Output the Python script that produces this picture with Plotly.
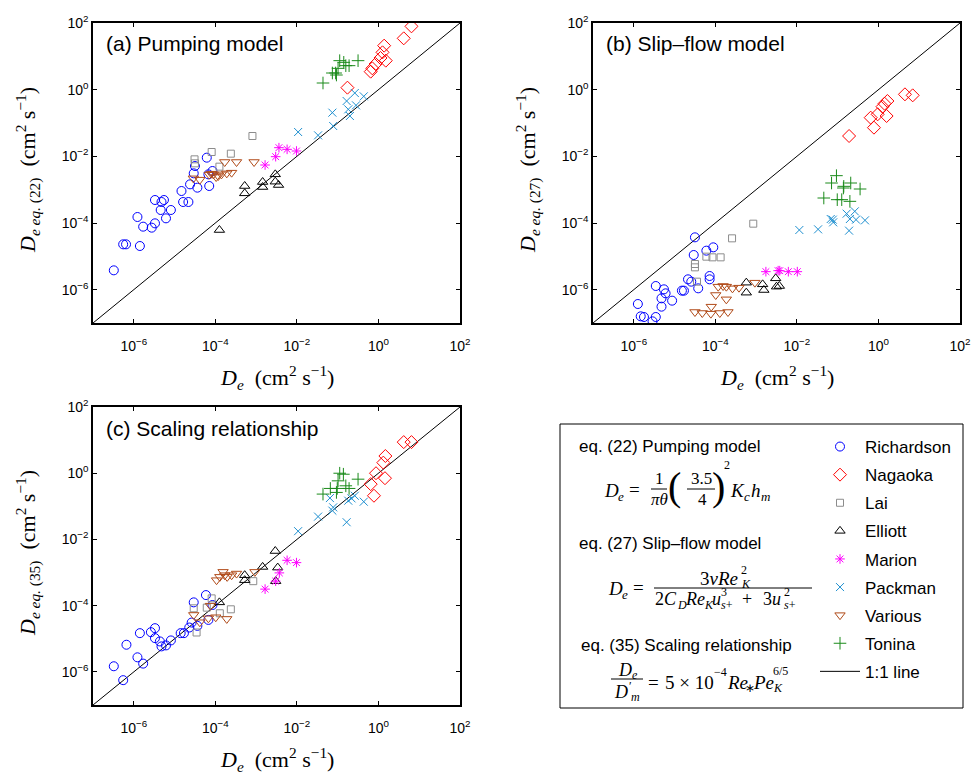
import numpy as np
import plotly.graph_objects as go

W, H = 973, 773

# ---------------- data (log10 of cm^2 s^-1) ----------------
# Panel (a) Pumping model
richardson_a_x = [-6.49,-6.26,-6.19,-5.85,-5.91,-5.77,-5.56,-5.48,-5.21,-5.48,-5.32,-5.26,-5.34,-5.09,-4.83,-4.79,-4.66,-4.62,-4.44,-4.53,-4.50,-4.21,-4.15,-4.17,-4.07]
richardson_a_y = [-5.42,-4.64,-4.64,-4.69,-3.82,-4.11,-4.14,-4.01,-3.86,-3.31,-3.37,-3.31,-3.61,-3.61,-3.04,-3.37,-3.37,-2.84,-2.94,-2.51,-2.29,-2.04,-2.89,-2.54,-2.44]
nagaoka_a_x = [0.81,0.62,0.14,0.18,0.10,-0.07,-0.15,-0.19,-0.76,0.05]
nagaoka_a_y = [1.90,1.54,1.32,0.87,1.12,0.77,0.64,0.54,0.06,0.95]
lai_a_x = [-3.09,-4.09,-3.62,-4.51,-4.50,-3.90]
lai_a_y = [-1.39,-1.87,-1.92,-2.09,-2.21,-2.31]
elliott_a_x = [-3.90,-3.28,-3.28,-2.84,-2.84,-2.53,-2.53,-2.45]
elliott_a_y = [-4.21,-2.89,-3.11,-2.77,-2.92,-2.54,-2.76,-2.86]
marion_a_x = [-2.78,-2.52,-2.44,-2.24,-2.01]
marion_a_y = [-2.26,-2.01,-1.74,-1.79,-1.84]
packman_a_x = [-1.97,-1.48,-1.13,-1.11,-0.78,-0.74,-0.70,-0.58,-0.55,-0.36]
packman_a_y = [-1.27,-1.37,-0.69,-1.09,-0.34,-0.59,-0.79,-0.10,-0.47,-0.20]
various_a_x = [-4.54,-4.38,-4.15,-3.77,-3.48,-3.05,-4.05,-3.93,-3.85,-3.72,-3.60,-3.98,-4.10]
various_a_y = [-2.66,-2.70,-2.55,-2.17,-2.17,-2.17,-2.54,-2.59,-2.54,-2.51,-2.49,-2.62,-2.52]
tonina_a_x = [-1.36,-1.13,-1.05,-0.99,-0.95,-0.85,-0.80,-0.72,-0.50,-1.03]
tonina_a_y = [0.20,0.50,0.50,0.64,0.87,0.82,0.72,0.72,0.87,0.44]

# Panel (b) Slip-flow model
richardson_b_x = [-4.50,-4.53,-4.22,-4.05,-4.14,-4.14,-4.67,-4.59,-4.42,-4.82,-4.77,-5.46,-5.26,-5.22,-5.32,-5.06,-5.32,-5.90,-5.83,-5.75,-5.54,-5.46]
richardson_b_y = [-4.43,-4.96,-4.83,-4.73,-5.59,-5.69,-5.69,-5.76,-5.96,-6.03,-6.03,-5.89,-5.99,-6.11,-6.26,-6.33,-6.51,-6.43,-6.80,-6.82,-6.95,-6.82]
nagaoka_b_x = [-0.72,-0.19,-0.11,-0.02,0.10,0.22,0.20,0.65,0.84,0.15]
nagaoka_b_y = [-1.39,-0.84,-1.14,-0.74,-0.51,-0.34,-0.79,-0.14,-0.17,-0.42]
lai_b_x = [-3.07,-3.59,-4.22,-4.07,-3.87,-4.50,-4.50,-4.45]
lai_b_y = [-4.02,-4.46,-5.01,-5.03,-5.03,-5.23,-5.33,-5.76]
elliott_b_x = [-3.24,-3.24,-2.84,-2.81,-2.52,-2.50,-2.43]
elliott_b_y = [-5.79,-6.09,-5.84,-6.01,-5.66,-5.91,-5.89]
marion_b_x = [-2.76,-2.46,-2.42,-2.21,-1.99]
marion_b_y = [-5.46,-5.43,-5.43,-5.46,-5.46]
packman_b_x = [-1.94,-1.48,-1.17,-1.11,-1.12,-0.78,-0.72,-0.70,-0.58,-0.55,-0.33]
packman_b_y = [-4.21,-4.19,-3.88,-3.98,-3.90,-3.72,-4.23,-3.88,-3.65,-3.90,-3.92]
various_b_x = [-3.93,-3.81,-3.73,-3.58,-3.42,-3.03,-3.99,-3.73,-4.10,-4.50,-4.32,-4.11,-3.89,-3.69]
various_b_y = [-5.91,-5.89,-5.91,-5.96,-5.94,-5.79,-6.16,-6.29,-6.51,-6.67,-6.70,-6.72,-6.70,-6.67]
tonina_b_x = [-1.34,-1.15,-1.03,-0.86,-0.85,-0.68,-0.45,-1.01,-0.90,-0.70]
tonina_b_y = [-3.25,-2.80,-2.58,-2.95,-2.90,-2.80,-2.98,-3.30,-3.30,-3.35]

# Panel (c) Scaling relationship
richardson_c_x = [-6.26,-6.49,-6.18,-5.91,-5.77,-5.85,-5.58,-5.48,-5.48,-5.36,-5.32,-5.21,-5.09,-4.85,-4.77,-4.64,-4.58,-4.53,-4.44,-4.23,-4.17,-4.07]
richardson_c_y = [-6.25,-5.83,-5.18,-5.56,-5.75,-4.83,-4.80,-4.68,-4.98,-5.08,-5.23,-5.20,-5.05,-4.83,-4.83,-4.66,-4.51,-3.90,-4.61,-3.68,-4.43,-3.98]
nagaoka_c_x = [0.62,0.81,0.17,0.12,-0.06,-0.19,-0.11,0.16]
nagaoka_c_y = [0.94,0.94,0.52,0.32,0.00,-0.33,-0.68,-0.15]
lai_c_x = [-4.46,-4.53,-4.09,-3.89,-3.62,-3.07,-4.21]
lai_c_y = [-4.81,-4.08,-3.78,-4.23,-4.11,-3.26,-4.06]
elliott_c_x = [-3.90,-3.28,-3.28,-2.84,-2.53,-2.47,-2.52]
elliott_c_y = [-3.90,-3.08,-3.23,-2.83,-2.35,-2.85,-3.26]
marion_c_x = [-2.78,-2.52,-2.43,-2.24,-2.01]
marion_c_y = [-3.50,-3.26,-3.01,-2.63,-2.70]
packman_c_x = [-1.97,-1.48,-1.13,-1.11,-1.19,-0.78,-0.74,-0.66,-0.58,-0.36]
packman_c_y = [-1.75,-1.31,-1.13,-1.03,-0.75,-1.48,-0.83,-0.76,-0.68,-0.86]
various_c_x = [-3.97,-3.89,-3.81,-3.77,-3.71,-3.60,-3.48,-3.03,-4.53,-4.38,-4.17,-3.99,-3.72,-4.12]
various_c_y = [-3.23,-3.13,-2.98,-3.08,-3.13,-3.08,-3.03,-2.98,-4.28,-4.50,-4.38,-4.35,-4.40,-4.00]
tonina_c_x = [-1.36,-1.18,-1.01,-0.99,-0.95,-0.86,-0.80,-0.72,-0.50,-1.03]
tonina_c_y = [-0.63,-0.46,-0.46,-0.23,0.00,-0.03,-0.38,-0.46,-0.18,-0.58]

one_to_one = [1e-7, 1e2]

tick_vals = [1e-6, 1e-4, 1e-2, 1e0, 1e2]
tick_text = ["10<sup>−6</sup>", "10<sup>−4</sup>", "10<sup>−2</sup>", "10<sup>0</sup>", "10<sup>2</sup>"]

series_names = ["Richardson", "Nagaoka", "Lai", "Elliott", "Marion", "Packman", "Various", "Tonina"]
panel_titles = ["(a) Pumping model", "(b) Slip–flow model", "(c) Scaling relationship"]
eq_labels = ["(22)", "(27)", "(35)"]

# ---------------- styles ----------------
colors = {"Richardson": "#0000ff", "Nagaoka": "#ff0000", "Lai": "#8c8c8c", "Elliott": "#000000",
          "Marion": "#ff00ff", "Packman": "#1f90d0", "Various": "#b04a18", "Tonina": "#1a8a1a"}
symbols = {"Richardson": "circle-open", "Nagaoka": "diamond-open", "Lai": "square-open",
           "Elliott": "triangle-up-open", "Marion": "asterisk-open", "Packman": "x-thin-open",
           "Various": "triangle-down-open", "Tonina": "cross-thin-open"}
sizes = {"Richardson": 9, "Nagaoka": 10, "Lai": 7, "Elliott": 9, "Marion": 8,
         "Packman": 8, "Various": 9, "Tonina": 9}

panels = {
    "a": {"Richardson": (richardson_a_x, richardson_a_y), "Nagaoka": (nagaoka_a_x, nagaoka_a_y),
          "Lai": (lai_a_x, lai_a_y), "Elliott": (elliott_a_x, elliott_a_y),
          "Marion": (marion_a_x, marion_a_y), "Packman": (packman_a_x, packman_a_y),
          "Various": (various_a_x, various_a_y), "Tonina": (tonina_a_x, tonina_a_y)},
    "b": {"Richardson": (richardson_b_x, richardson_b_y), "Nagaoka": (nagaoka_b_x, nagaoka_b_y),
          "Lai": (lai_b_x, lai_b_y), "Elliott": (elliott_b_x, elliott_b_y),
          "Marion": (marion_b_x, marion_b_y), "Packman": (packman_b_x, packman_b_y),
          "Various": (various_b_x, various_b_y), "Tonina": (tonina_b_x, tonina_b_y)},
    "c": {"Richardson": (richardson_c_x, richardson_c_y), "Nagaoka": (nagaoka_c_x, nagaoka_c_y),
          "Lai": (lai_c_x, lai_c_y), "Elliott": (elliott_c_x, elliott_c_y),
          "Marion": (marion_c_x, marion_c_y), "Packman": (packman_c_x, packman_c_y),
          "Various": (various_c_x, various_c_y), "Tonina": (tonina_c_x, tonina_c_y)},
}

# pixel boxes of the three plot areas: (x0, x1, ytop, ybottom)
boxes = {"a": (93, 460, 23, 323), "b": (593, 960, 23, 323), "c": (93, 460, 407, 705)}
axis_ids = {"a": ("x", "y"), "b": ("x2", "y2"), "c": ("x3", "y3")}

SANS = "Liberation Sans, Arial, sans-serif"
SERIF = "Liberation Serif, Times New Roman, serif"
NB = "\u00a0"

def px(x):
    return x / W

def py(y):
    return 1 - y / H

fig = go.Figure()

for key in ["a", "b", "c"]:
    xa, ya = axis_ids[key]
    # 1:1 line
    fig.add_trace(go.Scatter(x=one_to_one, y=one_to_one, mode="lines", xaxis=xa, yaxis=ya,
                             line=dict(color="black", width=1), name="1:1 line",
                             showlegend=False, hoverinfo="skip", legendgroup="line", legendrank=9))
    for i, s in enumerate(series_names):
        lx, ly = panels[key][s]
        fig.add_trace(go.Scatter(
            x=np.power(10.0, lx), y=np.power(10.0, ly), mode="markers", xaxis=xa, yaxis=ya,
            name=s, legendgroup=s, legendrank=i + 1, showlegend=(key == "a"),
            marker=dict(symbol=symbols[s], size=sizes[s], color=colors[s],
                        line=dict(color=colors[s], width=1))))

# legend entry for 1:1 line
fig.add_trace(go.Scatter(x=[None], y=[None], mode="lines", xaxis="x", yaxis="y",
                         line=dict(color="black", width=1), name="1:1 line",
                         legendgroup="line", legendrank=9, showlegend=True))

layout = dict(width=W, height=H, margin=dict(l=0, r=0, t=0, b=0, autoexpand=False),
              paper_bgcolor="white", plot_bgcolor="white",
              font=dict(family=SANS, size=14, color="black"))

axis_common = dict(type="log", range=[-7, 2], tickvals=tick_vals, ticktext=tick_text,
                   ticks="inside", ticklen=4, tickwidth=1, tickcolor="black",
                   showline=True, linecolor="black", linewidth=1.5, mirror="ticks",
                   showgrid=False, zeroline=False, automargin=False,
                   tickfont=dict(family=SANS, size=14, color="black"))

for key in ["a", "b", "c"]:
    x0, x1, yt, yb = boxes[key]
    xa, ya = axis_ids[key]
    xname = "xaxis" if xa == "x" else "xaxis" + xa[1:]
    yname = "yaxis" if ya == "y" else "yaxis" + ya[1:]
    layout[xname] = dict(axis_common, domain=[px(x0), px(x1)], anchor=ya, ticklabelstandoff=9)
    layout[yname] = dict(axis_common, domain=[py(yb), py(yt)], anchor=xa, ticklabelstandoff=0)

layout["legend"] = dict(x=px(815), y=py(429), xanchor="left", yanchor="top",
                        bgcolor="rgba(0,0,0,0)", borderwidth=0, traceorder="grouped",
                        tracegroupgap=3, itemwidth=40,
                        font=dict(family=SANS, size=17, color="black"),
                        itemclick=False, itemdoubleclick=False)

fig.update_layout(**layout)

annotations = []

def txt(x, y, text, size=19, family=SERIF, xanchor="left", angle=0):
    annotations.append(dict(x=px(x), y=py(y), xref="paper", yref="paper", text=text,
                            showarrow=False, xanchor=xanchor, yanchor="middle",
                            textangle=angle, borderpad=0,
                            font=dict(family=family, size=size, color="black")))

# panel titles
for key, title in zip(["a", "b", "c"], panel_titles):
    x0, x1, yt, yb = boxes[key]
    txt(x0 + 12, yt + 21, title, size=21, family=SANS)

# axis titles
xtitle = "<i>D<sub>e</sub></i>" + NB + NB + "(cm<sup>2</sup>" + NB + "s<sup>−1</sup>)"
for key, eq in zip(["a", "b", "c"], eq_labels):
    x0, x1, yt, yb = boxes[key]
    txt((x0 + x1) / 2, yb + 54, xtitle, size=22, xanchor="center")
    ytitle = ("<i>D<sub>e" + NB + "eq.</sub></i><sub>" + NB + eq + "</sub>" + NB + NB +
              "(cm<sup>2</sup>" + NB + "s<sup>−1</sup>)")
    txt(x0 - 65, (yt + yb) / 2 - 3, ytitle, size=22, xanchor="center", angle=-90)

shapes = []

def hbar(x0, x1, y):
    shapes.append(dict(type="line", xref="paper", yref="paper", x0=px(x0), x1=px(x1),
                       y0=py(y), y1=py(y), line=dict(color="black", width=1)))

# legend/equation box
shapes.append(dict(type="rect", xref="paper", yref="paper", x0=px(560), x1=px(963),
                   y0=py(708), y1=py(424), line=dict(color="black", width=1)))

# eq. (22)
txt(578, 446, "eq. (22) Pumping model", size=17, family=SANS)
txt(603, 490, "<i>D</i>", 19)
txt(617, 496, "<i>e</i>", 13)
txt(628, 489, "=", 19)
txt(659, 478, "1", 17, xanchor="center")
hbar(651, 667, 489)
txt(659, 499, "<i>πθ</i>", 17, xanchor="center")
txt(674, 486, "(", 40, xanchor="center")
txt(701, 478, "3.5", 17, xanchor="center")
hbar(687, 715, 489)
txt(702, 499, "4", 17, xanchor="center")
txt(718, 486, ")", 40, xanchor="center")
txt(723, 465, "2", 12)
txt(729, 490, "<i>K</i>", 19)
txt(743, 496, "<i>c</i>", 13)
txt(750, 490, "<i>h</i>", 19)
txt(760, 496, "<i>m</i>", 13)

# eq. (27)
txt(578, 543, "eq. (27) Slip–flow model", size=17, family=SANS)
txt(607, 588, "<i>D</i>", 19)
txt(621, 594, "<i>e</i>", 13)
txt(632, 587, "=", 19)
txt(739, 578, "3<i>νRe</i>", 19, xanchor="right")
txt(740, 570, "2", 12)
txt(740, 584, "<i>K</i>", 12)
hbar(654, 812, 588)
txt(654, 599, "2<i>C</i>", 18)
txt(676, 605, "<i>D</i>", 12)
txt(684, 599, "<i>Re</i>", 18)
txt(703, 605, "<i>K</i>", 12)
txt(711, 599, "<i>u</i>", 18)
txt(720, 592, "3", 12)
txt(720, 605, "<i>s</i>+", 12)
txt(741, 599, "+", 18)
txt(762, 599, "3<i>u</i>", 18)
txt(783, 592, "2", 12)
txt(783, 605, "<i>s</i>+", 12)

# eq. (35)
txt(580, 645, "eq. (35) Scaling relationship", size=17, family=SANS)
txt(617, 670, "<i>D</i>", 18)
txt(631, 675, "<i>e</i>", 12)
hbar(611, 643, 679)
txt(613, 692, "<i>D</i>", 18)
txt(628, 686, "′", 12)
txt(630, 697, "<i>m</i>", 12)
txt(647, 682, "=", 19)
txt(664, 682, "5" + NB + "×" + NB + "10", 19)
txt(713, 672, "−4", 12)
txt(726, 682, "<i>Re</i>", 19)
txt(744, 688, "∗", 12)
txt(752, 682, "<i>Pe</i>", 19)
txt(772, 671, "6/5", 12)
txt(772, 688, "<i>K</i>", 12)

fig.update_layout(annotations=annotations, shapes=shapes)

fig.write_html("out.html", config={"displayModeBar": False},
               post_script="document.body.style.margin='0px';")
